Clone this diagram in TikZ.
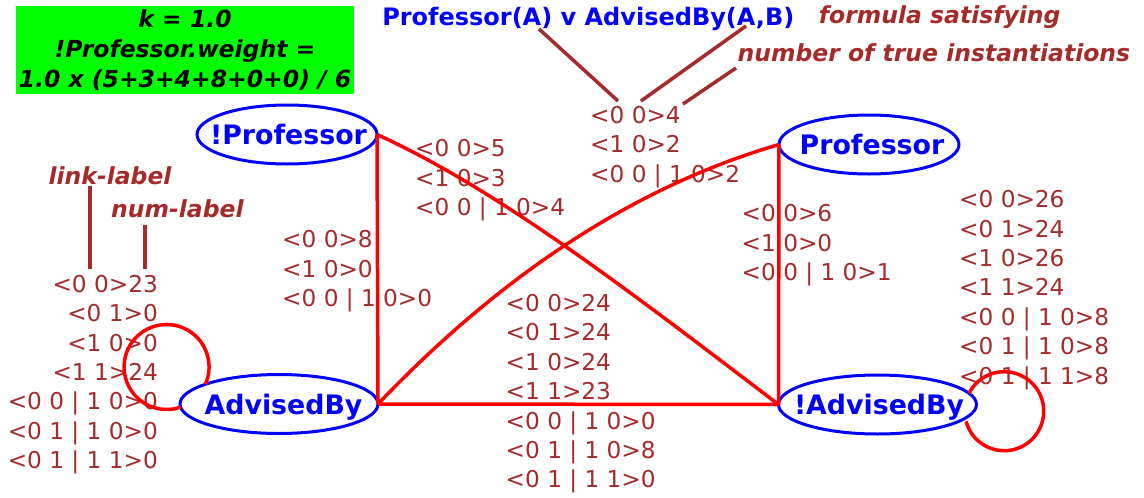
\documentclass[tikz,border=0pt]{standalone}
\usepackage{fontspec}
\setmainfont{DejaVu Sans}[ItalicFont={DejaVu Sans Oblique},BoldFont={DejaVu Sans Bold},BoldItalicFont={DejaVu Sans Bold Oblique}]
\usetikzlibrary{shapes.geometric}
\definecolor{lbl}{RGB}{165,42,42}
\definecolor{pureGreen}{RGB}{0,255,0}
\newcommand\numblock[5]{%
  \foreach \mytext [count=\i from 0] in {#5} {
    \node[num, anchor=#2] (#1-\i) at (#3,{#4+29.4*\i}) {\mytext};
  }}
\begin{document}
\begin{tikzpicture}[x=1pt,y=-1pt,
  pred/.style={ellipse, draw=blue, line width=3pt, fill=white, inner sep=0pt, outer sep=0pt,
    minimum height=59pt, text=blue, font=\fontsize{26.8}{30}\selectfont\bfseries, text depth=0pt},
  rel/.style={draw=red, line width=3.5pt},
  lead/.style={draw=lbl, line width=3.5pt},
  num/.style={text=lbl, font=\fontsize{23.2}{28}\selectfont, inner sep=0pt},
  note/.style={text=lbl, font=\fontsize{23.5}{28}\selectfont\bfseries\itshape, inner sep=0pt}
]
\useasboundingbox (0,0) rectangle (1144,498);

% green info box
\node[fill=pureGreen, minimum width=338pt, minimum height=88pt, inner sep=0pt, align=center,
  font=\fontsize{23.5}{29.8}\selectfont\bfseries\itshape] (kbox) at (185,50)
  {k = 1.0\\!Professor.weight =\\1.0 x (5+3+4+8+0+0) / 6};

% predicate nodes
\node[pred, minimum width=180pt] (np) at (287,134.5) {\makebox[0pt]{\hspace*{3pt}!Professor}};
\node[pred, minimum width=180pt] (p) at (869,144.5) {\makebox[0pt]{\hspace*{6pt}Professor}};
\node[pred, minimum width=198pt] (ab) at (279,404) {\makebox[0pt]{\hspace*{9pt}AdvisedBy}};
\node[pred, minimum width=198pt] (nab) at (877.5,404.5) {\makebox[0pt]{\hspace*{3pt}!AdvisedBy}};

% titles and notes
\node[anchor=base, text=blue, font=\fontsize{24}{28}\selectfont\bfseries, inner sep=0pt] (formula) at (588.3,25) {Professor(A) v AdvisedBy(A,B)};
\node[note, anchor=base] (fs) at (939.7,23.3) {formula satisfying};
\node[note, anchor=base] (nt) at (933.9,61.7) {number of true instantiations};
\node[note, anchor=base] (ll) at (110,184) {link-label};
\node[note, anchor=base] (nl) at (177.4,217.3) {num-label};

% leader lines
\coordinate (l1a) at (539,29);  \coordinate (l1b) at (618,101);
\coordinate (l2a) at (746,26);  \coordinate (l2b) at (641,101);
\coordinate (l3a) at (736,68);  \coordinate (l3b) at (683,104);
\coordinate (lk1) at (90,186);  \coordinate (lk2) at (90,269);
\coordinate (ln1) at (145,225); \coordinate (ln2) at (145,269);
\draw[lead] (l1a) -- (l1b);
\draw[lead] (l2a) -- (l2b);
\draw[lead] (l3a) -- (l3b);
\draw[lead] (lk1) -- (lk2);
\draw[lead] (ln1) -- (ln2);

% count blocks
\numblock{ba}{base west}{590}{123.3}{<0 0>4,<1 0>2,<0 0 | 1 0>2}
\numblock{bb}{base west}{415}{156.6}{<0 0>5,<1 0>3,<0 0 | 1 0>4}
\numblock{bc}{base west}{282}{247.6}{<0 0>8,<1 0>0,<0 0 | 1 0>0}
\numblock{bd}{base west}{741.5}{221.6}{<0 0>6,<1 0>0,<0 0 | 1 0>1}
\numblock{be}{base west}{959}{207.6}{<0 0>26,<0 1>24,<1 0>26,<1 1>24,<0 0 | 1 0>8,<0 1 | 1 0>8,<0 1 | 1 1>8}
\numblock{bf}{base west}{505.5}{311.5}{<0 0>24,<0 1>24,<1 0>24,<1 1>23,<0 0 | 1 0>0,<0 1 | 1 0>8,<0 1 | 1 1>0}
\numblock{bg}{base east}{158}{292.3}{<0 0>23,<0 1>0,<1 0>0,<1 1>24,<0 0 | 1 0>0,<0 1 | 1 0>0,<0 1 | 1 1>0}

% relations
\draw[rel] (np.east) -- (ab.east);
\draw[rel] (np.east) .. controls (497,189) and (628,290) .. (nab.west);
\draw[rel] (p.west) -- (nab.west);
\draw[rel] (ab.east) .. controls (504,272) and (638,185.5) .. (p.west);
\draw[rel] (ab.east) -- (nab.west);
\draw[rel] (ab.165) arc[start angle=-24, end angle=290, radius=42.5pt];
\draw[rel] (nab.7.65) arc[start angle=153, end angle=-165, radius=39.5pt];
\end{tikzpicture}
\end{document}
